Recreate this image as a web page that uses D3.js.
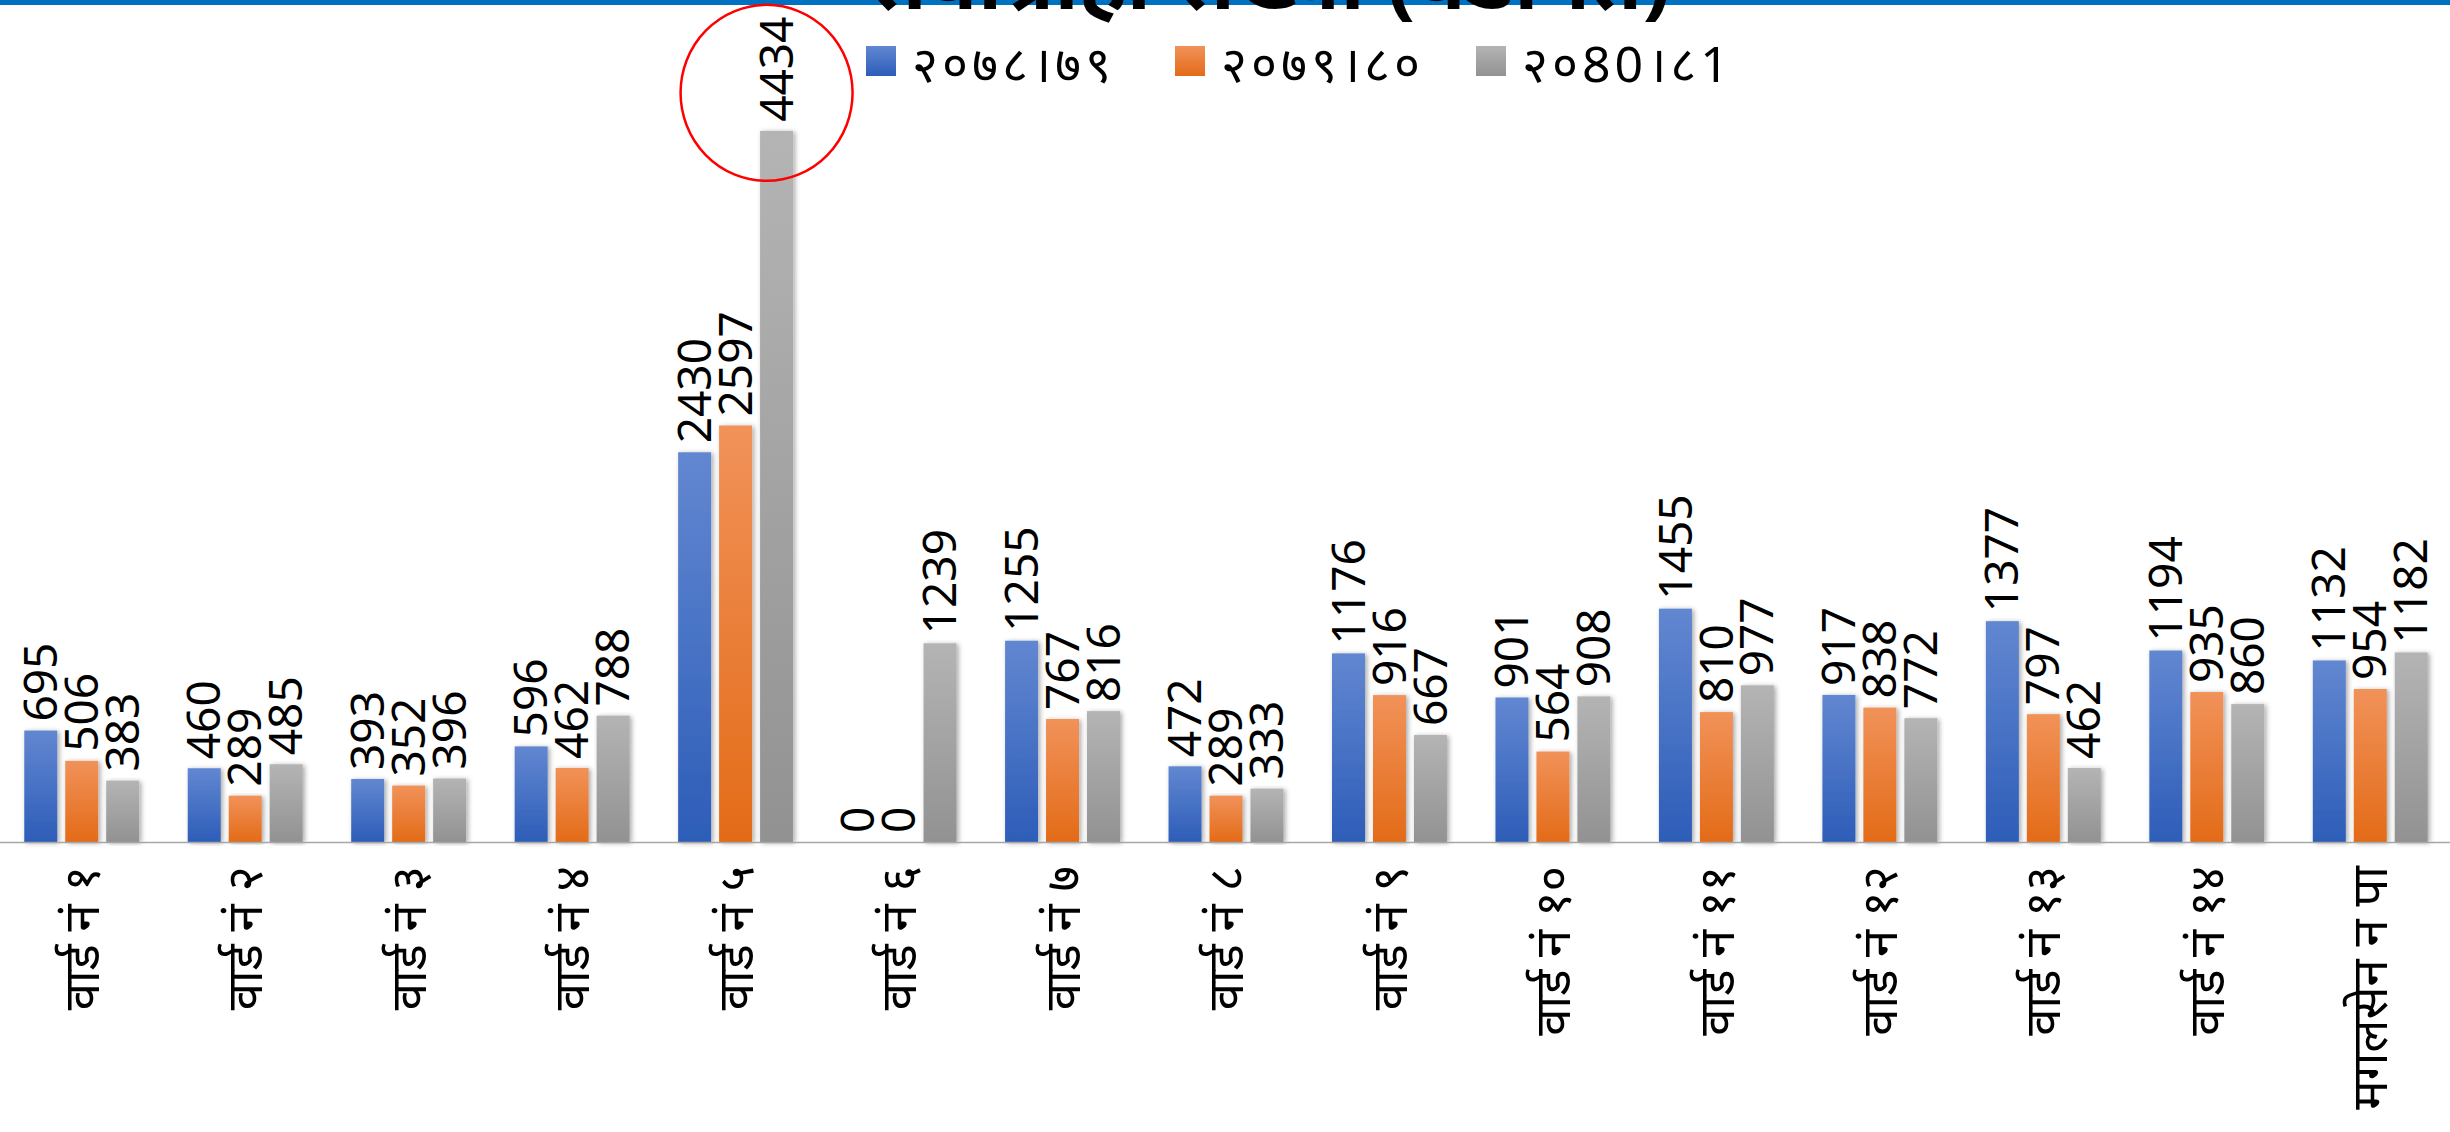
<!DOCTYPE html>
<html>
<head>
<meta charset="utf-8">
<script src="https://cdn.jsdelivr.net/npm/d3@7/dist/d3.min.js"></script>
<style>
  html, body { margin: 0; padding: 0; background: #ffffff; overflow: hidden; }
  svg { display: block; }
</style>
</head>
<body>
<div id="chart"></div>
<script>
// ---- data ----
const categories = ["वार्ड नं १", "वार्ड नं २", "वार्ड नं ३", "वार्ड नं ४", "वार्ड नं ५", "वार्ड नं ६", "वार्ड नं ७", "वार्ड नं ८", "वार्ड नं ९", "वार्ड नं १०", "वार्ड नं ११", "वार्ड नं १२", "वार्ड नं १३", "वार्ड नं १४", "मगलसेन न पा"];
const seriesNames = ["२०७८।७९", "२०७९।८०", "२०80।८1"];
const values2078 = [695, 460, 393, 596, 2430, 0, 1255, 472, 1176, 901, 1455, 917, 1377, 1194, 1132];
const values2079 = [506, 289, 352, 462, 2597, 0, 767, 289, 916, 564, 810, 838, 797, 935, 954];
const values2080 = [383, 485, 396, 788, 4434, 1239, 816, 333, 667, 908, 977, 772, 462, 860, 1182];
const titleText = "सेवाग्राही संख्या (वडागत)";
const highlightCategory = "वार्ड नं ५";

const seriesValues = [values2078, values2079, values2080];
const colors = [
  { top: "#6287d1", bottom: "#2d5db8" },
  { top: "#f19259", bottom: "#e36b18" },
  { top: "#b4b4b4", bottom: "#929292" }
];

const W = 2450, H = 1132;
const svg = d3.select("#chart").append("svg").attr("width", W).attr("height", H);
svg.append("rect").attr("width", W).attr("height", H).attr("fill", "#ffffff");

const defs = svg.append("defs");
colors.forEach((c, i) => {
  const g = defs.append("linearGradient").attr("id", "grad" + i)
    .attr("x1", 0).attr("y1", 0).attr("x2", 0).attr("y2", 1);
  g.append("stop").attr("offset", "0%").attr("stop-color", c.top);
  g.append("stop").attr("offset", "100%").attr("stop-color", c.bottom);
});
const f = defs.append("filter").attr("id", "shadow")
  .attr("x", "-30%").attr("y", "-5%").attr("width", "160%").attr("height", "110%");
f.append("feDropShadow").attr("dx", 2).attr("dy", 1).attr("stdDeviation", 2.5)
  .attr("flood-color", "#000").attr("flood-opacity", 0.35);

// ---- scales ----
const baseY = 842;
const x = d3.scaleBand().domain(categories).range([0, 2452]).paddingInner(0.297).paddingOuter(0.1485);
const xSub = d3.scaleBand().domain(d3.range(3)).range([0, x.bandwidth()]).paddingInner(0.195);
const y = d3.scaleLinear().domain([0, 5250]).range([baseY, 0]);

// ---- top accent bar ----
svg.append("rect").attr("x", 0).attr("y", 0).attr("width", W).attr("height", 5).attr("fill", "#0070c0");

// ---- title (mostly above the visible area, as in the reference) ----
svg.append("text")
  .attr("x", 1268).attr("y", 9)
  .attr("text-anchor", "middle")
  .attr("font-family", "'Noto Sans', sans-serif")
  .attr("font-weight", "bold")
  .attr("font-size", 84)
  .attr("fill", "#000")
  .text(titleText);

// ---- bars ----
const groups = svg.append("g").selectAll("g").data(categories).join("g")
  .attr("transform", d => `translate(${x(d)},0)`);

seriesValues.forEach((vals, si) => {
  groups.append("rect")
    .attr("x", xSub(si))
    .attr("y", (d, i) => y(vals[i]))
    .attr("width", xSub.bandwidth())
    .attr("height", (d, i) => baseY - y(vals[i]))
    .attr("fill", `url(#grad${si})`)
    .attr("filter", (d, i) => vals[i] > 0 ? "url(#shadow)" : null);
});

// ---- axis line ----
svg.append("line").attr("x1", 0).attr("x2", W).attr("y1", baseY + 0.5).attr("y2", baseY + 0.5)
  .attr("stroke", "#a6a6a6").attr("stroke-width", 1.5);

// ---- data labels ----
seriesValues.forEach((vals, si) => {
  groups.append("text")
    .attr("transform", (d, i) => `translate(${xSub(si) + xSub.bandwidth() / 2},${y(vals[i]) - 9}) rotate(-90)`)
    .attr("dy", "0.35em")
    .attr("text-anchor", "start")
    .attr("font-family", "'Noto Sans', sans-serif")
    .attr("font-size", 46)
    .attr("fill", "#000")
    .text((d, i) => vals[i]);
});

// ---- category labels ----
svg.append("g").selectAll("text").data(categories).join("text")
  .attr("transform", d => `translate(${x(d) + x.bandwidth() / 2},866) rotate(-90)`)
  .attr("dy", "0.35em")
  .attr("text-anchor", "end")
  .attr("font-family", "'Noto Sans', sans-serif")
  .attr("font-size", 49)
  .attr("fill", "#000")
  .text(d => d);

// ---- highlight circle ----
const hx = x(highlightCategory) + xSub(2) + xSub.bandwidth() / 2;
const hy = y(values2080[categories.indexOf(highlightCategory)]);
svg.append("ellipse")
  .attr("cx", hx - 10).attr("cy", hy - 38).attr("rx", 86).attr("ry", 88)
  .attr("fill", "none").attr("stroke", "#ff0000").attr("stroke-width", 2.5);

// ---- legend ----
const legendX = [866, 1175, 1476];
const legend = svg.append("g").selectAll("g").data(seriesNames).join("g")
  .attr("transform", (d, i) => `translate(${legendX[i]},46)`);
legend.append("rect").attr("width", 30).attr("height", 30).attr("fill", (d, i) => `url(#grad${i})`);
legend.append("text").attr("x", 46).attr("y", 36)
  .attr("font-family", "'Noto Sans', sans-serif")
  .attr("font-size", 50)
  .attr("letter-spacing", 4)
  .attr("fill", "#000")
  .text(d => d);
</script>
</body>
</html>
